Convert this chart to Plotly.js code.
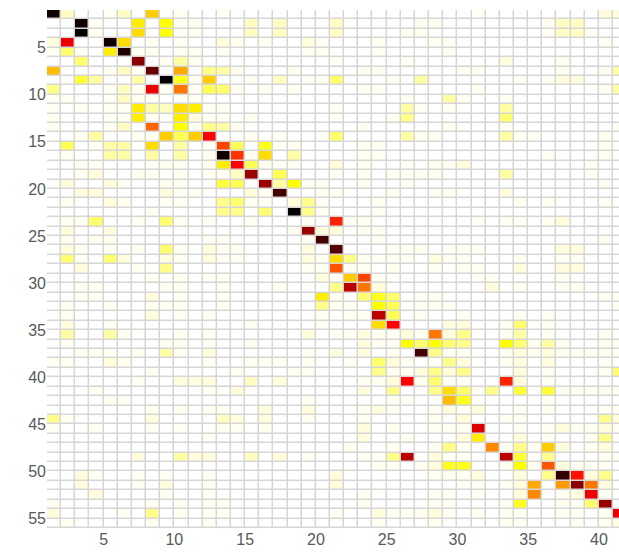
<!DOCTYPE html>
<html>
<head>
<meta charset="utf-8">
<script src="https://cdn.plot.ly/plotly-3.0.1.min.js"></script>
<style>
  html, body { margin: 0; padding: 0; background: #ffffff; overflow: hidden; }
  #chart { width: 619px; height: 553px; }
</style>
</head>
<body>
<div id="chart"></div>
<script>
// Intensity levels (0 = white ... 40 = black), one array per matrix row (top to bottom)
const row01 = [39,3,0,0,1,3,0,13,0,1, 0,0,1,0,0,0,0,0,0,0, 0,0,0,0,0,0,0,0,0,0, 1,0,0,0,0,0,0,0,0,2, 2];
const row02 = [0,0,39,1,0,0,11,0,10,1, 1,0,0,0,3,0,3,0,0,0, 3,0,0,0,0,0,1,1,0,0, 0,0,0,0,0,1,3,3,0,0, 0];
const row03 = [0,0,40,1,0,0,12,0,10,1, 1,0,0,0,3,0,3,0,0,0, 3,0,0,0,0,1,1,0,0,0, 0,0,0,0,0,1,3,3,1,0, 0];
const row04 = [2,26,0,0,39,12,0,1,0,1, 0,0,2,1,0,1,0,0,2,1, 0,0,0,1,0,0,0,1,1,0, 0,0,0,0,0,0,0,0,0,1, 0];
const row05 = [1,6,1,0,11,38,1,1,0,1, 1,0,1,0,0,0,0,0,1,1, 0,0,0,1,0,0,0,0,1,0, 0,0,0,0,0,0,0,0,0,0, 0];
const row06 = [0,0,6,0,0,0,32,0,1,4, 1,0,0,0,0,0,0,0,0,0, 1,0,0,0,0,1,0,0,0,0, 0,0,2,0,0,0,1,0,0,0, 0];
const row07 = [14,0,0,0,1,3,1,34,0,15, 0,5,4,1,0,0,0,1,0,0, 0,0,1,1,0,0,0,0,0,1, 1,0,0,0,0,0,1,0,0,1, 4];
const row08 = [0,0,8,4,0,0,4,0,40,9, 1,13,0,0,1,0,3,0,1,1, 6,0,0,0,1,0,4,0,0,0, 0,0,0,1,0,1,2,2,0,0, 0];
const row09 = [5,0,0,0,1,3,1,26,1,18, 1,7,6,1,0,1,0,1,0,0, 0,0,1,1,0,0,0,0,0,0, 1,0,0,0,0,0,0,0,0,1, 4];
const row10 = [1,1,0,0,1,3,1,1,0,1, 1,0,0,0,0,0,0,0,0,0, 0,0,0,0,0,1,0,0,4,1, 0,0,1,0,0,0,0,0,0,0, 0];
const row11 = [1,0,1,0,1,1,11,4,3,12, 11,1,1,0,0,0,0,0,0,0, 1,0,0,0,0,4,1,0,1,0, 0,0,4,0,0,0,0,0,0,0, 0];
const row12 = [1,0,0,0,1,1,11,1,0,11, 2,1,1,0,1,0,0,0,0,0, 1,0,0,0,1,5,0,0,0,0, 0,0,6,0,0,0,0,0,0,0, 0];
const row13 = [1,0,0,0,1,3,0,19,0,10, 1,5,4,1,0,0,0,0,0,0, 0,0,1,0,0,0,0,0,1,0, 0,0,1,0,0,0,0,0,0,0, 1];
const row14 = [0,0,1,4,0,0,1,1,13,7, 13,25,0,0,1,0,1,0,0,1, 6,0,0,0,0,4,1,1,0,0, 0,0,4,1,1,0,0,0,0,1, 0];
const row15 = [0,7,0,1,4,4,0,12,0,4, 0,1,21,7,0,9,1,1,0,0, 0,0,1,1,0,0,0,0,0,0, 0,0,0,0,0,0,0,0,0,1, 0];
const row16 = [0,1,0,0,4,4,0,4,0,4, 0,1,39,22,1,12,0,4,0,0, 0,0,1,1,0,0,0,0,0,0, 0,0,0,0,0,1,0,0,0,1, 0];
const row17 = [0,0,1,1,0,0,0,1,1,1, 0,1,11,25,7,1,1,1,0,0, 2,0,1,0,0,1,0,1,1,2, 0,0,0,0,0,0,0,0,1,0, 0];
const row18 = [0,0,1,2,0,0,1,1,0,1, 0,1,1,3,31,0,7,0,0,0, 1,0,1,0,1,1,1,1,0,0, 0,0,4,0,0,0,0,0,1,0, 0];
const row19 = [0,2,0,0,2,1,0,0,1,1, 0,0,8,7,0,31,4,10,1,1, 0,0,1,0,0,1,0,0,0,0, 0,0,0,0,0,0,0,0,0,1, 0];
const row20 = [0,0,2,2,0,0,0,0,2,1, 1,0,0,0,2,1,36,0,0,1, 1,0,0,0,1,0,0,1,1,0, 0,0,2,0,0,0,0,0,0,0, 0];
const row21 = [0,1,0,0,2,1,0,0,1,1, 0,0,5,6,1,1,0,2,5,1, 0,0,0,1,0,0,0,0,0,0, 0,0,0,1,0,1,0,0,0,1, 0];
const row22 = [0,0,0,0,0,0,0,1,0,0, 0,0,5,5,0,6,0,40,5,1, 0,0,0,1,0,0,0,0,0,0, 0,0,0,0,0,0,0,0,0,0, 0];
const row23 = [0,1,1,6,0,0,1,0,6,1, 0,1,0,0,1,0,0,0,1,0, 23,1,1,0,0,0,0,0,0,0, 1,0,1,1,0,1,2,0,0,0, 0];
const row24 = [0,2,0,0,2,0,0,0,0,0, 0,0,0,0,0,0,0,1,31,2, 2,0,1,1,0,0,0,0,0,0, 0,0,0,0,0,0,0,0,0,0, 0];
const row25 = [0,1,0,1,1,0,0,0,0,0, 0,1,1,0,0,0,0,0,1,36, 0,0,0,1,0,0,0,0,0,0, 0,0,0,0,0,0,0,0,0,1, 0];
const row26 = [0,2,1,0,1,0,1,0,6,1, 0,2,1,1,0,0,0,0,2,0, 35,0,0,0,1,1,1,0,1,1, 1,0,0,0,0,0,2,2,0,0, 0];
const row27 = [0,6,1,0,6,2,0,0,2,1, 0,2,1,1,0,0,0,0,2,1, 12,5,1,1,1,1,0,2,1,1, 0,0,0,1,0,0,1,1,0,0, 0];
const row28 = [0,0,2,0,0,0,1,0,5,0, 0,0,0,0,0,0,0,0,1,1, 20,1,1,0,1,0,0,1,0,1, 1,0,0,2,0,0,2,2,0,0, 0];
const row29 = [0,0,0,0,0,0,0,1,0,1, 0,1,1,0,0,0,0,0,0,2, 1,13,21,1,0,0,0,0,0,0, 1,1,0,0,0,0,1,0,0,0, 0];
const row30 = [0,0,1,1,0,0,0,0,1,1, 0,0,1,0,0,0,1,0,0,0, 5,29,18,2,0,0,0,0,0,0, 0,2,0,1,0,0,1,1,0,0, 0];
const row31 = [0,0,1,1,0,0,0,2,0,1, 0,0,1,0,0,0,0,0,0,11, 1,0,6,9,6,0,1,1,0,0, 0,0,0,0,0,0,0,0,0,1, 1];
const row32 = [0,1,0,0,1,0,0,1,1,1, 0,0,1,0,0,0,0,0,0,5, 1,1,0,10,7,0,1,1,1,0, 0,0,0,0,0,0,0,0,0,0, 1];
const row33 = [0,1,0,0,0,0,0,2,0,1, 0,1,0,0,0,0,0,0,0,1, 0,1,1,29,7,0,1,0,0,1, 0,0,0,1,0,1,0,0,0,0, 0];
const row34 = [0,2,0,0,1,0,0,0,0,0, 0,0,0,0,1,0,0,0,0,1, 0,0,0,12,25,0,0,0,2,2, 0,0,1,6,0,1,0,0,0,0, 0];
const row35 = [0,4,0,0,4,1,0,0,0,1, 0,1,0,0,0,0,0,0,2,0, 1,1,2,1,1,2,1,18,2,5, 0,0,1,4,0,1,0,0,0,1, 0];
const row36 = [0,1,0,0,0,0,0,0,1,1, 0,1,0,0,1,0,0,0,0,0, 0,0,2,1,1,10,6,10,6,5, 0,0,10,6,1,4,1,0,0,1, 1];
const row37 = [0,0,1,1,1,0,1,0,4,1, 0,2,0,0,0,0,0,0,1,0, 2,0,2,0,1,0,36,5,1,1, 0,0,1,2,1,2,1,1,1,1, 1];
const row38 = [1,1,0,0,2,1,0,0,0,0, 0,1,0,0,1,1,1,0,1,0, 0,1,0,6,2,1,0,1,5,2, 0,0,1,2,0,2,0,0,0,1, 0];
const row39 = [0,0,0,0,0,0,0,1,0,0, 0,0,0,1,0,0,0,1,1,0, 0,0,0,5,1,1,2,5,2,5, 0,0,0,2,0,1,0,0,0,1, 6];
const row40 = [0,0,0,0,0,0,1,0,0,2, 2,2,0,0,3,0,2,0,0,0, 0,0,1,1,2,25,1,6,1,1, 0,0,23,2,0,1,0,0,0,0, 0];
const row41 = [0,0,0,1,0,0,0,0,0,0, 0,1,0,2,0,0,0,0,0,0, 0,0,2,0,5,0,0,5,12,6, 1,5,0,8,0,8,1,1,1,1, 1];
const row42 = [0,0,0,0,1,1,0,0,0,0, 0,0,0,0,0,0,0,0,1,0, 0,0,0,0,1,1,0,0,14,9, 0,0,0,0,0,1,0,0,0,0, 0];
const row43 = [0,0,0,0,0,0,0,1,0,1, 0,1,1,0,0,2,0,0,2,0, 0,0,1,2,1,0,0,1,2,1, 2,0,0,1,0,1,0,0,0,1, 1];
const row44 = [5,1,0,0,0,0,0,2,0,0, 0,0,3,2,0,2,0,0,1,0, 0,0,1,0,0,0,0,1,0,2, 0,0,1,1,0,0,0,0,0,5, 2];
const row45 = [1,0,0,1,0,0,0,1,0,1, 0,0,1,1,0,1,0,0,0,0, 0,0,2,0,1,0,0,1,1,1, 27,0,0,1,0,1,2,1,1,2, 1];
const row46 = [0,0,0,0,0,0,0,0,0,0, 0,1,0,0,0,0,0,0,0,0, 0,0,2,0,0,1,0,0,0,2, 11,0,0,2,0,1,0,0,1,5, 0];
const row47 = [0,0,0,0,0,0,0,0,0,0, 0,0,0,0,0,0,0,0,0,0, 0,1,0,0,1,0,0,1,5,1, 0,17,1,5,1,13,2,0,1,2, 0];
const row48 = [0,0,0,0,0,0,2,0,0,4, 2,2,0,0,3,0,2,0,1,0, 0,0,1,1,5,29,0,2,1,1, 0,0,29,8,0,5,0,0,0,1, 1];
const row49 = [0,0,0,0,0,0,0,0,0,0, 0,0,0,0,0,0,0,0,0,0, 0,0,0,1,1,0,1,2,9,9, 0,0,1,10,1,20,2,1,1,1, 0];
const row50 = [0,0,2,1,0,0,1,0,1,0, 0,1,0,0,0,0,0,0,0,0, 2,0,0,0,0,0,0,1,1,1, 2,0,0,2,0,5,37,24,2,5, 0];
const row51 = [0,0,2,0,0,0,1,0,2,0, 0,1,0,0,0,0,0,0,0,0, 2,0,0,0,0,0,0,0,0,1, 1,0,1,2,15,0,16,32,18,2, 0];
const row52 = [0,0,0,2,0,0,0,0,1,0, 0,1,0,0,0,0,0,0,0,0, 0,0,1,0,0,0,0,1,1,0, 1,0,0,2,17,0,1,2,26,1, 0];
const row53 = [1,0,0,0,0,0,0,1,0,1, 0,1,1,0,0,0,0,0,0,0, 0,0,1,0,0,0,0,1,1,0, 0,0,1,9,0,0,1,1,6,31, 0];
const row54 = [2,0,0,0,0,1,0,5,0,1, 0,1,1,0,0,0,0,0,0,0, 1,0,0,2,1,1,1,2,1,0, 1,0,1,1,0,0,1,1,0,1, 26];
const row55 = [0,1,0,0,0,0,0,1,0,0, 0,1,0,0,0,0,0,0,0,0, 0,0,0,1,0,0,0,1,0,0, 0,0,1,1,0,0,0,1,0,1, 2];

const xTickValues = [5, 10, 15, 20, 25, 30, 35, 40];
const xTickLabels = ['5', '10', '15', '20', '25', '30', '35', '40'];
const yTickValues = [5, 10, 15, 20, 25, 30, 35, 40, 45, 50, 55];
const yTickLabels = ['5', '10', '15', '20', '25', '30', '35', '40', '45', '50', '55'];

const zMatrix = [row01,row02,row03,row04,row05,row06,row07,row08,row09,row10,
  row11,row12,row13,row14,row15,row16,row17,row18,row19,row20,
  row21,row22,row23,row24,row25,row26,row27,row28,row29,row30,
  row31,row32,row33,row34,row35,row36,row37,row38,row39,row40,
  row41,row42,row43,row44,row45,row46,row47,row48,row49,row50,
  row51,row52,row53,row54,row55];

const nRows = zMatrix.length;
const nCols = row01.length;
// pcolor-style cell edges: cell k spans [k, k+1]
const xEdges = Array.from({length: nCols + 1}, (_, i) => i + 1);
const yEdges = Array.from({length: nRows + 1}, (_, i) => i + 1);

const tickFont = {family: 'Liberation Sans, Arial, sans-serif', size: 16, color: '#595959'};

const trace = {
  type: 'heatmap',
  z: zMatrix,
  x: xEdges,
  y: yEdges,
  zmin: 0,
  zmax: 40,
  colorscale: [[0, '#ffffff'], [0.025, '#fffff2'], [0.05, '#fffddc'], [0.25, '#ffff00'], [0.625, '#ff0000'], [1, '#000000']],
  showscale: false,
  xgap: 1.5,
  ygap: 1.5,
  hoverinfo: 'skip'
};

const layout = {
  width: 619,
  height: 553,
  margin: {l: 47, r: 0, t: 10, b: 25, pad: 0},
  paper_bgcolor: '#ffffff',
  plot_bgcolor: '#d6d6d6',
  showlegend: false,
  xaxis: {
    range: [1, 41.42],
    tickmode: 'array',
    tickvals: xTickValues,
    ticktext: xTickLabels,
    showgrid: false, zeroline: false, showline: false,
    ticks: '',
    tickfont: tickFont,
    automargin: false,
    fixedrange: true
  },
  yaxis: {
    range: [1 + nRows, 1],
    tickmode: 'array',
    tickvals: yTickValues,
    ticktext: yTickLabels,
    showgrid: false, zeroline: false, showline: false,
    ticks: '',
    tickfont: tickFont,
    automargin: false,
    fixedrange: true
  }
};

Plotly.newPlot('chart', [trace], layout, {displayModeBar: false, staticPlot: true});
</script>
</body>
</html>
